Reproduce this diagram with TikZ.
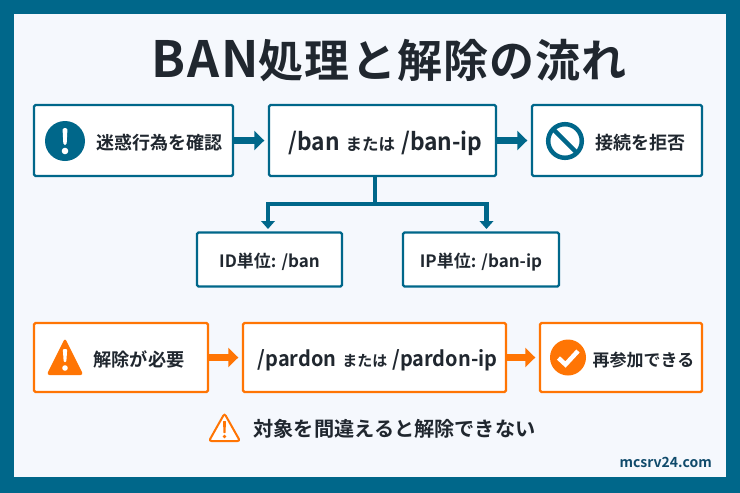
\documentclass[tikz,border=0pt]{standalone}
\usepackage{fontspec}
\setmainfont{Noto Sans CJK JP}[BoldFont={Noto Sans CJK JP Bold}]
\newfontfamily\cond{Noto Sans CJK JP}[BoldFont={Noto Sans CJK JP Bold},FakeStretch=0.95]
\usetikzlibrary{arrows.meta}
\definecolor{teal1}{HTML}{00678A}
\definecolor{org}{HTML}{FF7504}
\definecolor{ink}{HTML}{20272F}
\definecolor{paper}{HTML}{F5F8FD}
\definecolor{urlc}{HTML}{0F4A6B}
\newcommand{\cmdtxt}[1]{{\cond\bfseries\fontsize{\cmdsize}{24}\selectfont #1}}
\newcommand{\katxt}[1]{{\bfseries\fontsize{\kasize}{24}\selectfont #1}}
\tikzset{
 x=1pt,y=-1pt,
 tbox/.style={draw=teal1,line width=2.4pt,fill=white,rounded corners=1.5pt,inner sep=0pt,minimum height=#1},
 obox/.style={draw=org,line width=2.4pt,fill=white,rounded corners=1.5pt,inner sep=0pt,minimum height=#1},
 txt/.style={text=ink,font=\bfseries,inner sep=0pt,anchor=base},
 tarr/.style={draw=teal1,line width=6.5pt,-{Triangle[length=10pt,width=19pt]},shorten >=3.5pt},
 oarr/.style={draw=org,line width=6.5pt,-{Triangle[length=10pt,width=19pt]},shorten >=3.5pt},
 sarr/.style={draw=teal1,line width=4.5pt,-{Triangle[length=8pt,width=13.5pt]}},
}
\begin{document}
\begin{tikzpicture}
\useasboundingbox (0,0) rectangle (740,493);
\fill[teal1] (0,0) rectangle (740,493);
\fill[paper] (14,14) rectangle (725.5,477);
\node[txt] (title) at (389,77) {{\fontsize{50}{50}\selectfont\addfontfeature{LetterSpace=4}BAN}{\fontsize{45}{45}\selectfont\addfontfeature{LetterSpace=2.5}処理と解除の流れ}};
% teal boxes
\node[tbox=71pt,minimum width=199pt] (b1) at (133.5,140.5) {};
\node[tbox=71pt,minimum width=227pt] (b2) at (382.5,140.5) {};
\node[tbox=71pt,minimum width=170pt] (b3) at (617,140.5) {};
\node[tbox=54pt,minimum width=145pt] (idb) at (269.5,259.5) {};
\node[tbox=54pt,minimum width=156pt] (ipb) at (481,259.5) {};
\draw[tarr] (b1.east) -- (b2.west);
\draw[tarr] (b2.east) -- (b3.west);
\coordinate (j) at (375,204);
\draw[teal1,line width=4.5pt] (b2.south -| j) -- (j);
\draw[sarr] (j) -| (268,229);
\draw[sarr] (j) -| (486.5,229);
% orange boxes
\node[obox=69pt,minimum width=174pt] (o1) at (121,357.5) {};
\node[obox=69pt,minimum width=263pt] (o2) at (374.5,357.5) {};
\node[obox=69pt,minimum width=162pt] (o3) at (621,357.5) {};
\draw[oarr] (o1.east) -- (o2.west);
\draw[oarr] (o2.east) -- (o3.west);
% texts
\node[txt,font=\bfseries\fontsize{18}{18}\selectfont] (t1) at (159.5,149) {迷惑行為を確認};
\def\cmdsize{24}\def\kasize{16.5}
\node[txt] (t2) at (385.5,150) {\cmdtxt{/ban}\hspace{6pt}\katxt{または}\hspace{6pt}\cmdtxt{/ban-ip}};
\node[txt,font=\bfseries\fontsize{18}{18}\selectfont] (t3) at (640,149) {接続を拒否};
\node[txt,font=\bfseries\fontsize{17}{18}\selectfont] (t4) at (269.5,267) {ID単位: /ban};
\node[txt,font=\bfseries\fontsize{17}{18}\selectfont] (t5) at (481,267) {IP単位: /ban-ip};
\node[txt,font=\bfseries\fontsize{18.2}{18}\selectfont] (t6) at (139,366) {解除が必要};
\def\cmdsize{21}\def\kasize{15}
\node[txt] (t7) at (377.5,366) {\cmdtxt{/pardon}\hspace{6pt}\katxt{または}\hspace{5pt}\cmdtxt{/pardon-ip}};
\node[txt,font=\bfseries\fontsize{17}{18}\selectfont] (t8) at (643.5,366) {再参加できる};
\node[txt,font=\bfseries\fontsize{20.2}{20}\selectfont] (t9) at (394.5,436) {対象を間違えると解除できない};
\node[text=urlc,font=\bfseries\fontsize{14}{14}\selectfont,inner sep=0pt,anchor=base east] (url) at (712,467) {mcsrv24.com};
% icon: exclamation circle
\fill[teal1] (65,141) circle (20);
\fill[white,rounded corners=1.5pt] (62.5,128) -- (67.5,128) -- (66.6,145) -- (63.4,145) -- cycle;
\fill[white] (65,151) circle (3.3);
% icon: prohibited
\draw[teal1,line width=4.5pt] (565,141) circle (16.8);
\draw[teal1,line width=4.5pt] (553.2,129.2) -- (576.8,152.8);
% icon: warning solid
\fill[org,rounded corners=3pt] (65,338) -- (83.5,375) -- (46.5,375) -- cycle;
\fill[white,rounded corners=1pt] (62.8,349) -- (67.2,349) -- (66.3,362) -- (63.7,362) -- cycle;
\fill[white] (65,368) circle (2.8);
% icon: check circle
\fill[org] (568,357.5) circle (18);
\draw[white,line width=4.5pt] (558.5,358) -- (565.5,364.5) -- (578,351);
% icon: warning outline
\draw[org,line width=2pt,rounded corners=2.5pt,fill=white] (224.5,413.5) -- (240,441) -- (209,441) -- cycle;
\fill[org,rounded corners=.5pt] (223,421) -- (226,421) -- (225.5,433) -- (223.5,433) -- cycle;
\fill[org] (224.5,436.5) circle (1.8);
\end{tikzpicture}
\end{document}
